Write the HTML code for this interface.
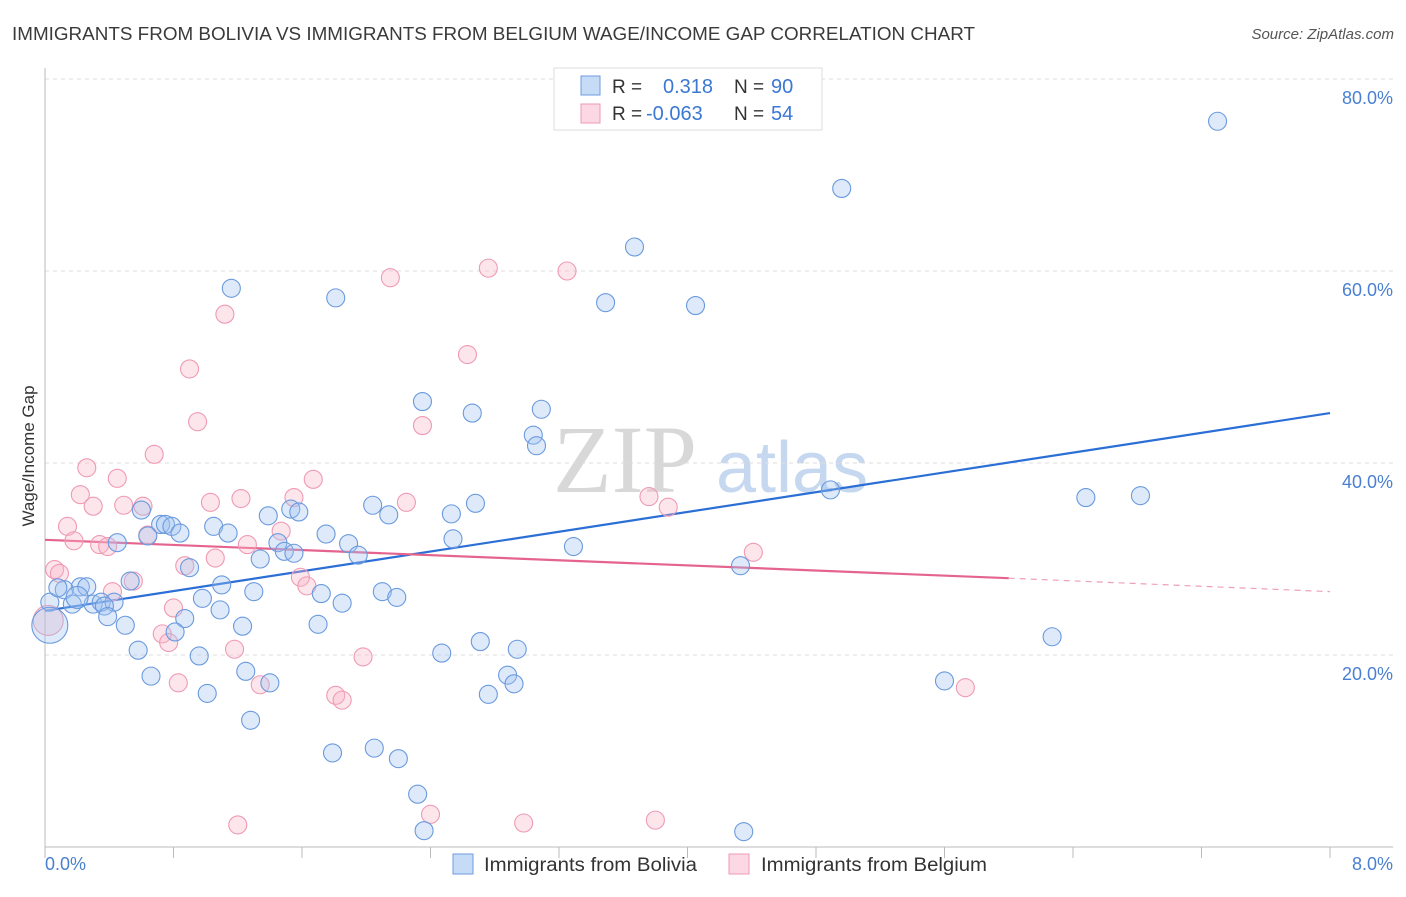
<!DOCTYPE html>
<html><head><meta charset="utf-8"><style>
body{margin:0;background:#fff;font-family:"Liberation Sans",sans-serif;}
svg text{font-family:"Liberation Sans",sans-serif;}
</style></head><body>
<svg id="chart" width="1406" height="892" viewBox="0 0 1406 892" xmlns="http://www.w3.org/2000/svg">
<text x="12" y="40" font-size="18" fill="#3a3a3a" textLength="963" lengthAdjust="spacingAndGlyphs">IMMIGRANTS FROM BOLIVIA VS IMMIGRANTS FROM BELGIUM WAGE/INCOME GAP CORRELATION CHART</text>
<text x="1394" y="39" font-size="15" fill="#555" text-anchor="end" font-style="italic">Source: ZipAtlas.com</text>
<g>
<text x="553" y="492" font-size="96" fill="#d8d8d8" font-family="Liberation Serif" style="font-family:'Liberation Serif',serif">ZIP</text>
<text x="716" y="492" font-size="72" fill="#c5d8ef">atlas</text>
</g>
<g id="grid"></g>
<g id="axes"></g>
<g id="trend"></g>
<g id="points"></g>
<text transform="translate(34,456) rotate(-90)" font-size="17" fill="#333" text-anchor="middle">Wage/Income Gap</text>
<g>
<rect x="554" y="68" width="268" height="62" fill="#fff" stroke="#ddd"/>
<rect x="581" y="76" width="19" height="19" fill="rgba(160,196,240,0.6)" stroke="#6d9be0"/>
<rect x="581" y="104" width="19" height="19" fill="rgba(248,190,208,0.6)" stroke="#ec9ab4"/>
<text x="612" y="93" font-size="19" fill="#333">R = </text><text x="663" y="93" font-size="20" fill="#3a78d4">0.318</text>
<text x="734" y="93" font-size="19" fill="#333">N = </text><text x="771" y="93" font-size="20" fill="#3a78d4">90</text>
<text x="612" y="120" font-size="19" fill="#333">R = </text><text x="646" y="120" font-size="20" fill="#3a78d4">-0.063</text>
<text x="734" y="120" font-size="19" fill="#333">N = </text><text x="771" y="120" font-size="20" fill="#3a78d4">54</text>
</g>
<g>
<rect x="453" y="854" width="20" height="20" fill="rgba(160,196,240,0.6)" stroke="#6d9be0"/>
<text x="484" y="871" font-size="19" fill="#333" textLength="213" lengthAdjust="spacingAndGlyphs">Immigrants from Bolivia</text>
<rect x="729" y="854" width="20" height="20" fill="rgba(248,190,208,0.6)" stroke="#ec9ab4"/>
<text x="761" y="871" font-size="19" fill="#333" textLength="226" lengthAdjust="spacingAndGlyphs">Immigrants from Belgium</text>
</g>
</svg>
<script>
const blueX=[7.30,4.96,3.67,1.16,1.81,3.49,4.05,2.35,2.66,3.09,3.04,3.06,4.89,6.48,6.82,2.68,2.04,2.14,2.53,1.53,1.58,1.39,0.60,0.72,0.75,0.79,0.84,1.05,1.14,1.75,1.89,1.95,2.54,3.29,0.45,0.64,1.45,1.49,1.55,1.34,0.90,1.10,0.53,0.22,0.26,0.12,0.17,0.30,0.35,0.43,0.37,0.03,0.08,1.72,2.10,2.19,0.98,1.30,1.85,0.39,1.09,0.87,0.50,1.23,1.70,0.81,0.58,0.96,2.71,2.94,2.47,6.27,4.33,0.66,1.25,1.40,1.01,2.88,2.92,2.76,5.60,1.28,1.79,2.05,2.20,2.32,2.36,4.35,0.03,0.20];
const blueY=[75.6,68.6,62.5,58.2,57.2,56.7,56.4,46.4,45.2,45.6,42.9,41.8,37.2,36.4,36.6,35.8,35.6,34.6,34.7,35.2,34.9,34.5,35.1,33.6,33.6,33.4,32.7,33.4,32.7,32.6,31.6,30.4,32.1,31.3,31.7,32.4,31.7,30.8,30.6,30.0,29.1,27.3,27.7,27.1,27.1,26.8,25.3,25.3,25.5,25.5,25.1,25.5,27.0,26.4,26.6,26.0,25.9,26.6,25.4,24.0,24.7,23.8,23.1,23.0,23.2,22.4,20.5,19.9,21.4,20.6,20.2,21.9,29.3,17.8,18.3,17.1,16.0,17.9,17.0,15.9,17.3,13.2,9.8,10.3,9.2,5.5,1.7,1.6,23.1,26.0];
const blueR=[9,9,9,9,9,9,9,9,9,9,9,9,9,9,9,9,9,9,9,9,9,9,9,9,9,9,9,9,9,9,9,9,9,9,9,9,9,9,9,9,9,9,9,9,9,9,9,9,9,9,9,9,9,9,9,9,9,9,9,9,9,9,9,9,9,9,9,9,9,9,9,9,9,9,9,9,9,9,9,9,9,9,9,9,9,9,9,9,18,11];
const pinkX=[2.76,3.25,2.15,1.12,2.63,0.90,0.95,2.35,0.68,0.26,0.45,1.67,0.22,0.30,0.49,0.61,1.03,1.22,1.55,2.25,3.76,3.88,0.14,0.64,1.47,0.18,0.34,0.39,1.26,1.06,4.41,0.06,0.09,0.87,1.59,1.63,0.55,0.42,0.80,0.73,0.77,1.18,1.98,0.83,1.34,1.81,1.85,5.73,2.40,1.20,2.98,3.80,0.02];
const pinkY=[60.3,60.0,59.3,55.5,51.3,49.8,44.3,43.9,40.9,39.5,38.4,38.3,36.7,35.5,35.6,35.5,35.9,36.3,36.4,35.9,36.5,35.4,33.4,32.5,32.9,31.9,31.5,31.3,31.5,30.1,30.7,28.9,28.5,29.3,28.1,27.2,27.7,26.6,24.9,22.2,21.3,20.6,19.8,17.1,16.9,15.8,15.3,16.6,3.4,2.3,2.5,2.8,23.6];
const pinkR=[9,9,9,9,9,9,9,9,9,9,9,9,9,9,9,9,9,9,9,9,9,9,9,9,9,9,9,9,9,9,9,9,9,9,9,9,9,9,9,9,9,9,9,9,9,9,9,9,9,9,9,9,15];
const yTicks=[20,40,60,80];
const yTickLabels=["20.0%","40.0%","60.0%","80.0%"];
const xTicks=[0,0.8,1.6,2.4,3.2,4.0,4.8,5.6,6.4,7.2,8.0];
const xEndLabels=["0.0%","8.0%"];
const blueTrend=[[0,24.6],[8,45.2]];
const pinkTrendSolid=[[0,32.0],[6.0,28.0]];
const pinkTrendDash=[[6.0,28.0],[8,26.6]];

const NS="http://www.w3.org/2000/svg";
const X=v=>45+v*160.625;
const Y=v=>847-v*9.6;
function mk(tag,attrs,parent){const e=document.createElementNS(NS,tag);for(const k in attrs)e.setAttribute(k,attrs[k]);parent.appendChild(e);return e;}
const grid=document.getElementById('grid'),axes=document.getElementById('axes'),trend=document.getElementById('trend'),pts=document.getElementById('points');
yTicks.forEach((t,i)=>{
 const l=mk('line',{x1:45,x2:1393,y1:Y(t),y2:Y(t),stroke:'#ddd','stroke-dasharray':'4,4'},grid);
 
 
 const tx=mk('text',{x:1393,y:Y(t)+25,'font-size':18,fill:'#4a80d0','text-anchor':'end'},axes);
 tx.textContent=yTickLabels[i];
 
 
});
const ax=mk('line',{x1:45,x2:45,y1:68,y2:847,stroke:'#bbb'},axes);


const bx=mk('line',{x1:45,x2:1393,y1:847,y2:847,stroke:'#bbb'},axes);


xTicks.forEach(t=>{
 const l=mk('line',{x1:X(t),x2:X(t),y1:847,y2:858,stroke:'#bbb'},axes);
 
 
});
const xl0=mk('text',{x:45,y:870,'font-size':18,fill:'#4a80d0'},axes);xl0.textContent=xEndLabels[0];


const xl1=mk('text',{x:1393,y:870,'font-size':18,fill:'#4a80d0','text-anchor':'end'},axes);xl1.textContent=xEndLabels[1];


function drawPts(xs,ys,rs,fill,stroke,name){
 xs.forEach((x,i)=>{
  const c=mk('circle',{cx:X(x),cy:Y(ys[i]),r:rs[i],fill:fill,stroke:stroke,'stroke-width':1.1},pts);
  
  
 });
}
drawPts(pinkX,pinkY,pinkR,'rgba(248,180,200,0.35)','#ef9ab4','point-belgium');
drawPts(blueX,blueY,blueR,'rgba(160,196,240,0.35)','#6a9ade','point-bolivia');
function line(p,stroke,dash,name){
 const l=mk('line',{x1:X(p[0][0]),y1:Y(p[0][1]),x2:X(p[1][0]),y2:Y(p[1][1]),stroke:stroke,'stroke-width':dash?1.2:2.2},trend);
 if(dash)l.setAttribute('stroke-dasharray','6,5');
 
 
}
line(blueTrend,'#2b6fd6',false,'trend-bolivia');
line(pinkTrendSolid,'#e4648e',false,'trend-belgium');
line(pinkTrendDash,'#eda0b8',true,'trend-belgium-extrapolated');
</script>
</body></html>
